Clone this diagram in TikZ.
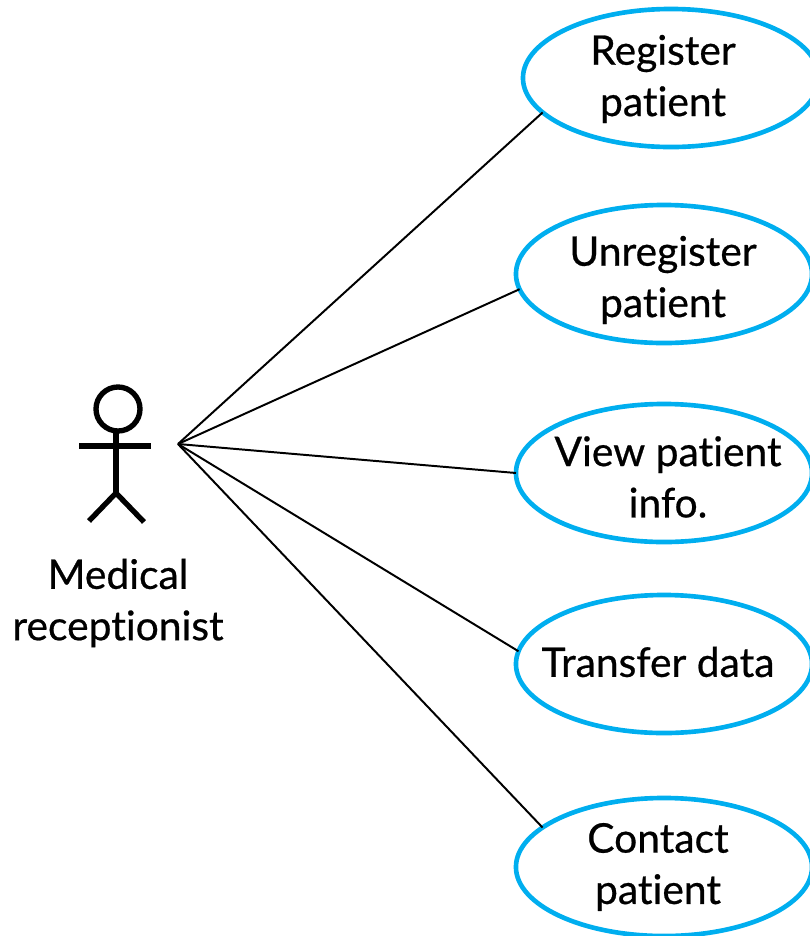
\documentclass[tikz,border=0pt]{standalone}
\usepackage{fontspec}
\setmainfont[Ligatures=NoCommon,UprightFeatures={FakeBold=0.6}]{Lato}
\usetikzlibrary{shapes.geometric}
\definecolor{ucBlue}{HTML}{00AEEF}
\tikzset{usecase/.style = {ellipse, draw=ucBlue, line width=3.3pt, inner sep=0pt, outer sep=0pt,
    minimum width=7.4cm, minimum height=3.45cm},
  caption/.style = {align=center, inner sep=0pt, font=\fontsize{29}{36.5}\selectfont},
  actor/.style = {draw=black, line width=3.8pt},
  assoc/.style = {draw=black, line width=1.4pt}}

\begin{document}
\begin{tikzpicture}[x=0.025cm,y=-0.025cm]
  \useasboundingbox (0,0) rectangle (810,936);

  \node[usecase] (register) at (671,78) {};
  \node[usecase] (unregister) at (664,274) {};
  \node[usecase] (view) at (664,473) {};
  \node[usecase] (transfer) at (664,664) {};
  \node[usecase] (contact) at (664,867) {};

  \node[caption] (registerText) at (663,79) {Register\\patient};
  \node[caption] (unregisterText) at (663,280) {Unregister\\patient};
  \node[caption] (viewText) at (668,477) {View patient\\info.};
  \node[caption] (transferText) at (658,662) {Transfer data};
  \node[caption] (contactText) at (658,867) {Contact\\patient};

  % actor
  \node[circle, actor, minimum size=1.1cm, inner sep=0pt, outer sep=0pt] (head) at (118,409) {};
  \coordinate (hip) at (116,493);
  \coordinate (armL) at (79,446);
  \coordinate (armR) at (151,446);
  \coordinate (footL) at (89,521);
  \coordinate (footR) at (144,522);
  \draw[actor] (head.south -| hip) -- (hip);
  \draw[actor] (armL) -- (armR);
  \draw[actor] (footL) -- (hip) -- (footR);
  \node[caption] (actorText) at (118,603) {Medical\\receptionist};

  \coordinate (hub) at (178,444);
  \draw[assoc] (hub) -- (register.195);
  \draw[assoc] (hub) -- (unregister.186);
  \draw[assoc] (hub) -- (view.180);
  \draw[assoc] (hub) -- (transfer.175);
  \draw[assoc] (hub) -- (contact.162);
\end{tikzpicture}
\end{document}
